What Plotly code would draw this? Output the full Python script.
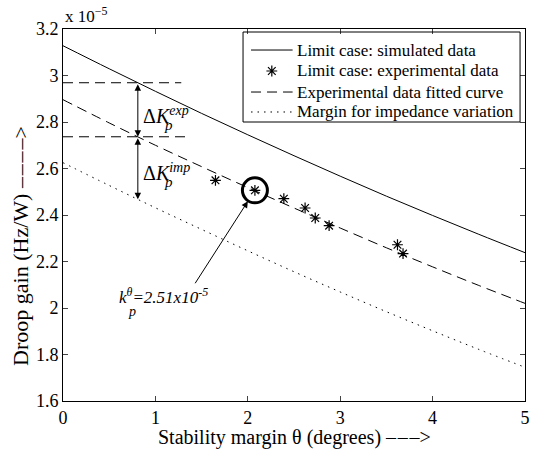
import numpy as np
import plotly.graph_objects as go

# ---- data (gain in units of 1e-5 Hz/W) ----
theta = [0, 0.5, 1, 1.5, 2, 2.5, 3, 3.5, 4, 4.5, 5]
sim_limit = [3.128, 3.029, 2.932, 2.837, 2.745, 2.655, 2.567, 2.481, 2.398, 2.317, 2.238]
fit_curve = [2.896, 2.796, 2.700, 2.608, 2.518, 2.430, 2.344, 2.259, 2.177, 2.097, 2.020]
margin_curve = [2.625, 2.527, 2.431, 2.338, 2.246, 2.156, 2.069, 1.984, 1.902, 1.822, 1.745]
exp_theta = [1.65, 2.077, 2.39, 2.62, 2.73, 2.88, 3.62, 3.68]
exp_gain = [2.549, 2.506, 2.470, 2.430, 2.387, 2.354, 2.272, 2.234]
highlight_idx = 1
theta_ref = 0.81
ref_line_ends = [1.28, 1.335]
y_ticks = [1.6, 1.8, 2.0, 2.2, 2.4, 2.6, 2.8, 3.0, 3.2]
y_tick_text = ["1.6", "1.8", "2", "2.2", "2.4", "2.6", "2.8", "3", "3.2"]
x_ticks = [0, 1, 2, 3, 4, 5]
legend_labels = ["Limit case: simulated data", "Limit case: experimental data",
                 "Experimental data fitted curve", "Margin for impedance variation"]

FONT = "Liberation Serif"
DASH = "10px,6px"
DOT = "1.5px,5px"
ARROW3 = "–\u200a–\u200a–>"
ARROW4 = "–\u200a–\u200a–\u200a–>"
y_sim = float(np.interp(theta_ref, theta, sim_limit))
y_fit = float(np.interp(theta_ref, theta, fit_curve))
y_mar = float(np.interp(theta_ref, theta, margin_curve))

fig = go.Figure()
fig.add_trace(go.Scatter(x=theta, y=sim_limit, mode="lines", showlegend=False,
                         line=dict(color="black", width=1), line_shape="spline"))
fig.add_trace(go.Scatter(x=exp_theta, y=exp_gain, mode="markers", showlegend=False,
                         marker=dict(symbol="asterisk-open", size=9, color="black",
                                     line=dict(color="black", width=1.2))))
fig.add_trace(go.Scatter(x=theta, y=fit_curve, mode="lines", showlegend=False,
                         line=dict(color="black", width=1, dash=DASH), line_shape="spline"))
fig.add_trace(go.Scatter(x=theta, y=margin_curve, mode="lines", showlegend=False,
                         line=dict(color="black", width=1, dash=DOT), line_shape="spline"))
# reference horizontal dashed lines
for yv, xe in zip([y_sim, y_fit], ref_line_ends):
    fig.add_trace(go.Scatter(x=[0, xe], y=[yv, yv], mode="lines", showlegend=False,
                             line=dict(color="black", width=1, dash=DASH), hoverinfo="skip"))
# highlight circle
fig.add_trace(go.Scatter(x=[exp_theta[highlight_idx]], y=[exp_gain[highlight_idx]], mode="markers",
                         showlegend=False,
                         marker=dict(symbol="circle-open", size=25, color="black",
                                     line=dict(color="black", width=3))))

# ---- manual legend (overlay axes in plot-fraction units) ----
row_y = [0.9435, 0.8871, 0.8306, 0.7769]
sx0, sx1, sxm, tx = 0.407, 0.497, 0.452, 0.503
styles = [dict(color="black", width=1), None, dict(color="black", width=1, dash=DASH),
          dict(color="black", width=1, dash=DOT)]
for ry, st in zip(row_y, styles):
    if st is None:
        fig.add_trace(go.Scatter(x=[sxm], y=[ry], xaxis="x2", yaxis="y2", mode="markers", showlegend=False,
                                 marker=dict(symbol="asterisk-open", size=9, color="black",
                                             line=dict(color="black", width=1.2)), hoverinfo="skip"))
    else:
        fig.add_trace(go.Scatter(x=[sx0, sx1], y=[ry, ry], xaxis="x2", yaxis="y2", mode="lines",
                                 showlegend=False, line=st, hoverinfo="skip"))

shapes = [dict(type="rect", xref="paper", yref="paper", x0=0.3897, x1=0.9893, y0=0.75, y1=0.9919,
               line=dict(color="black", width=1), layer="above")]

ann = []
for ry, lab in zip(row_y, legend_labels):
    ann.append(dict(x=tx, y=ry, xref="paper", yref="paper", xanchor="left", yanchor="middle",
                    showarrow=False, text=lab, font=dict(family=FONT, size=17, color="black")))
# double arrows
for ytop, ybot in [(y_sim, y_fit), (y_fit, y_mar)]:
    ann.append(dict(x=theta_ref, y=ybot, ax=theta_ref, ay=ytop, xref="x", yref="y", axref="x", ayref="y",
                    text="", showarrow=True, arrowhead=2, startarrowhead=2, arrowside="end+start",
                    arrowsize=1.3, arrowwidth=1, arrowcolor="black"))
# ΔK labels
for main_y, sub_y, sup in [(2.830, 2.787, "exp"), (2.585, 2.542, "imp")]:
    ann.append(dict(x=0.84, y=main_y, xref="x", yref="y", xanchor="left", yanchor="middle", showarrow=False,
                    text="Δ<i>K</i><sup><i>" + sup + "</i></sup>", font=dict(family=FONT, size=20, color="black")))
    ann.append(dict(x=1.07, y=sub_y, xref="x", yref="y", xanchor="left", yanchor="middle", showarrow=False,
                    text="<i>p</i>", font=dict(family=FONT, size=15, color="black")))
# k label with arrow
ann.append(dict(x=exp_theta[highlight_idx], y=exp_gain[highlight_idx], ax=1.42, ay=2.10,
                xref="x", yref="y", axref="x", ayref="y", text="", showarrow=True,
                arrowhead=2, arrowsize=1.3, arrowwidth=1, arrowcolor="black", standoff=13))
ann.append(dict(x=0.58, y=2.050, xref="x", yref="y", xanchor="left", yanchor="middle", showarrow=False,
                text="<i>k</i><sup><i>θ</i></sup><i>=2.51x10</i><sup><i>-5</i></sup>",
                font=dict(family=FONT, size=17, color="black")))
ann.append(dict(x=0.68, y=1.983, xref="x", yref="y", xanchor="left", yanchor="middle", showarrow=False,
                text="<i>p</i>", font=dict(family=FONT, size=14, color="black")))
# exponent label
ann.append(dict(x=0, y=1, xref="paper", yref="paper", xanchor="left", yanchor="bottom", showarrow=False,
                yshift=1, text="x 10<sup>−5</sup>", font=dict(family=FONT, size=17, color="black")))
# axis titles
ann.append(dict(x=0.5, y=0, xref="paper", yref="paper", xanchor="center", yanchor="middle", showarrow=False,
                yshift=-36, text="Stability margin θ (degrees) " + ARROW3,
                font=dict(family=FONT, size=20, color="black")))
ann.append(dict(x=0, y=0.417, xref="paper", yref="paper", xanchor="center", yanchor="middle", showarrow=False,
                xshift=-42, textangle=-90, text="Droop gain (Hz/W) " + ARROW4,
                font=dict(family=FONT, size=22, color="black")))

fig.update_layout(
    width=536, height=450,
    margin=dict(l=63, r=6, t=29, b=49),
    plot_bgcolor="white", paper_bgcolor="white",
    font=dict(family=FONT, size=18, color="black"),
    annotations=ann, shapes=shapes, showlegend=False,
    xaxis=dict(range=[0, 5], tickvals=x_ticks, ticks="inside", ticklen=5, showline=True, mirror="ticks",
               linecolor="black", linewidth=1, showgrid=False, zeroline=False,
               tickfont=dict(family=FONT, size=18)),
    yaxis=dict(range=[1.6, 3.2], tickvals=y_ticks, ticktext=y_tick_text, ticks="inside", ticklen=5,
               showline=True, mirror="ticks", linecolor="black", linewidth=1, showgrid=False, zeroline=False,
               tickfont=dict(family=FONT, size=18)),
    xaxis2=dict(overlaying="x", range=[0, 1], visible=False, fixedrange=True),
    yaxis2=dict(overlaying="y", range=[0, 1], visible=False, fixedrange=True),
)
fig.write_html("out.html")
